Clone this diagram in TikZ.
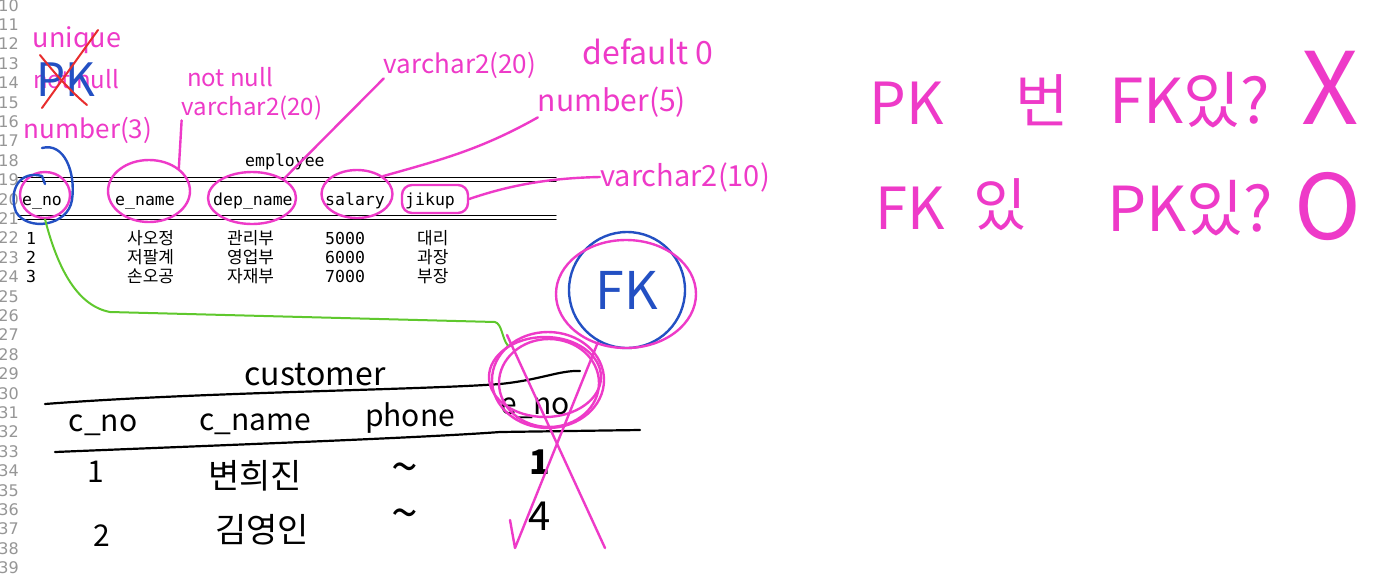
\documentclass[tikz,border=0pt]{standalone}
\usepackage{fontspec}
\setmainfont{DejaVu Sans}
\setmonofont{DejaVu Sans Mono}
\newfontfamily\krfont{Noto Sans CJK KR}
\usetikzlibrary{shapes.geometric}
\definecolor{penpink}{RGB}{238,58,200}
\definecolor{penblue}{RGB}{35,80,195}
\definecolor{pengreen}{RGB}{95,200,45}
\definecolor{penred}{RGB}{232,45,45}
\definecolor{lnogray}{RGB}{150,150,150}
\tikzset{
    lno/.style={font=\fontsize{16}{18}\selectfont, text=lnogray, anchor=base east, inner sep=0pt},
    code/.style={font=\fontsize{16.5}{18}\ttfamily, anchor=base west, inner sep=0pt},
    codekr/.style={font=\fontsize{17}{18}\krfont, anchor=base west, inner sep=0pt}
}

\begin{document}
\begin{tikzpicture}[x=1pt,y=-1pt, line cap=round, line join=round]

\tikzset{
  pen/.style={draw=penpink, line width=2.4pt},
  bluepen/.style={draw=penblue, line width=2.4pt},
  ring/.style={ellipse, draw=penpink, line width=2.4pt, inner sep=0pt},
  hand/.style={font=\fontsize{24}{26}\krfont, text=penpink, inner sep=0pt},
  ink/.style={font=\fontsize{30}{32}\krfont, text=black, inner sep=0pt},
  big/.style={font=\fontsize{58}{60}\krfont, text=penpink, inner sep=0pt},
}

\useasboundingbox[fill=white] (0,0) rectangle (1375,579);

% line numbers of the editor
\foreach \n in {10,...,39}
  \node[lno] (ln\n) at (19,{11+(\n-10)*19.4}) {\n};

% employee table (text file)
\node[code] (empTitle) at (245,166) {employee};
\draw[line width=1pt] (18,177) -- (556,177) (18,181) -- (556,181);
\node[code] (hENo) at (22,205) {e\_no};
\node[code] (hEName) at (115,205) {e\_name};
\node[code] (hDepName) at (213,205) {dep\_name};
\node[code] (hSalary) at (325,205) {salary};
\node[code] (hJikup) at (405,205) {jikup};
\draw[line width=1pt] (18,215) -- (556,215) (18,219) -- (556,219);
\foreach \eno/\enm/\edep/\esal/\ejik [count=\i] in {1/사오정/관리부/5000/대리, 2/저팔계/영업부/6000/과장, 3/손오공/자재부/7000/부장}{
  \node[code] (eNo\i) at (26,{244+(\i-1)*19.4}) {\eno};
  \node[codekr] (eName\i) at (127,{244+(\i-1)*19.4}) {\enm};
  \node[codekr] (eDep\i) at (227,{244+(\i-1)*19.4}) {\edep};
  \node[code] (eSal\i) at (325,{244+(\i-1)*19.4}) {\esal};
  \node[codekr] (eJik\i) at (417,{244+(\i-1)*19.4}) {\ejik};
}

% rings round the columns
\node[ring, minimum width=50, minimum height=46] (rENo) at (45,195) {};
\node[ring, minimum width=82, minimum height=62] (rEName) at (149,191) {};
\node[ring, minimum width=88, minimum height=52] (rDepName) at (252,198) {};
\node[ring, minimum width=71, minimum height=48] (rSalary) at (357,194) {};
\node[rectangle, rounded corners=10pt, draw=penpink, line width=2.4pt, minimum width=66, minimum height=28] (rJikup) at (435,199) {};
\draw[bluepen] (42,148) .. controls (64,142) and (76,172) .. (72,200)
  .. controls (68,226) and (28,232) .. (16,212)
  .. controls (8,190) and (20,170) .. (42,176) -- (45,184);

% notes on the columns
\node[hand, font=\fontsize{27}{28}\krfont] (nUnique) at (77,40) {unique};
\node[hand] (nNotNullA) at (76,79) {not null};
\node[font=\fontsize{46}{48}\krfont, text=penblue] (nPK) at (66,80) {PK};
\draw[draw=penred, line width=2pt] (98,30) -- (42,108);
\draw[draw=penred, line width=2pt] (40,55) .. controls (60,80) and (75,95) .. (87,105);
\node[hand, font=\fontsize{26}{28}\krfont] (nNumA) at (88,130) {number(3)};
\node[hand] (nNotNullB) at (230,77) {not null};
\node[hand] (nVarA) at (252,108) {varchar2(20)};
\node[hand, font=\fontsize{26}{28}\krfont] (nVarB) at (460,65) {varchar2(20)};
\node[hand, font=\fontsize{32}{34}\krfont] (nDefault) at (648,52) {default 0};
\node[hand, font=\fontsize{30}{32}\krfont] (nNumB) at (612,102) {number(5)};
\node[hand, font=\fontsize{29}{30}\krfont] (nVarC) at (685,177) {varchar2(10)};

\draw[pen] (rEName.north east) -- (nVarA.south west);
\draw[pen] (rDepName.north east) -- (nVarB.south west);
\draw[pen] (rSalary.north east) .. controls (440,160) and (480,150) .. (nNumB.south west);
\draw[pen] (rJikup.east) .. controls (510,185) and (550,178) .. (nVarC.west);

% customer table (hand drawn)
\node[ink, font=\fontsize{32}{34}\krfont] (cTitle) at (315,375) {customer};
\draw[line width=2.2pt] (45,404) .. controls (200,392) and (420,390) .. (500,384) .. controls (540,380) and (560,370) .. (580,371);
\node[ink] (cNo) at (103,425) {c\_no};
\node[ink] (cName) at (255,424) {c\_name};
\node[ink] (cPhone) at (410,418) {phone};
\node[ink] (cENo) at (535,408) {e\_no};
\draw[line width=2.2pt] (55,452) .. controls (200,446) and (420,438) .. (500,432) -- (640,430);
\node[ink] (cNo1) at (96,472) {1};
\node[ink, font=\fontsize{34}{36}\krfont] (cName1) at (255,476) {변희진};
\node[ink, font=\fontsize{48}{50}\krfont] (cPh1) at (405,474) {\textasciitilde};
\node[ink, font=\fontsize{34}{36}\bfseries\krfont] (cENo1) at (540,462) {1};
\node[ink] (cNo2) at (102,536) {2};
\node[ink, font=\fontsize{34}{36}\krfont] (cName2) at (262,530) {김영인};
\node[ink, font=\fontsize{48}{50}\krfont] (cPh2) at (405,520) {\textasciitilde};
\node[ink, font=\fontsize{40}{42}\krfont] (cENo2) at (540,516) {4};

% e_no of customer crossed out
\node[ring, minimum width=112, minimum height=96] (rCENo) at (548,380) {};
\draw[pen] (549,383) ellipse [x radius=50, y radius=44];
\draw[pen] (545,377) ellipse [x radius=56, y radius=40];
\draw[pen] (507,335) -- (605,548);
\draw[pen] (598,342) -- (515,548) -- (510,520);

% FK badge
\node[circle, draw=penblue, line width=2.4pt, minimum size=116, font=\fontsize{52}{54}\krfont, text=penblue] (fkBadge) at (627,290) {FK};
\node[ring, minimum width=140, minimum height=108] (rFK) at (626,294) {};

% green link e_no -> e_no
\coordinate (gBend) at (110,312);
\coordinate (gKnee) at (495,322);
\draw[draw=pengreen, line width=2pt] (rENo.south) .. controls (58,270) and (78,306) .. (gBend)
  -- (gKnee) .. controls (502,324) and (502,338) .. (rCENo.north west);

% questions on the right
\node[big] (q1a) at (907,103) {PK};
\node[big] (q1b) at (1042,100) {번};
\node[big, font=\fontsize{62}{64}\krfont] (q1c) at (1190,100) {FK있?};
\node[font=\fontsize{100}{100}\krfont, text=penpink] (q1d) at (1330,88) {X};
\node[big] (q2a) at (910,208) {FK};
\node[big] (q2b) at (1000,205) {있};
\node[big, font=\fontsize{62}{64}\krfont] (q2c) at (1190,208) {PK있?};
\node[font=\fontsize{90}{90}\krfont, text=penpink] (q2d) at (1328,207) {O};

\end{tikzpicture}
\end{document}
